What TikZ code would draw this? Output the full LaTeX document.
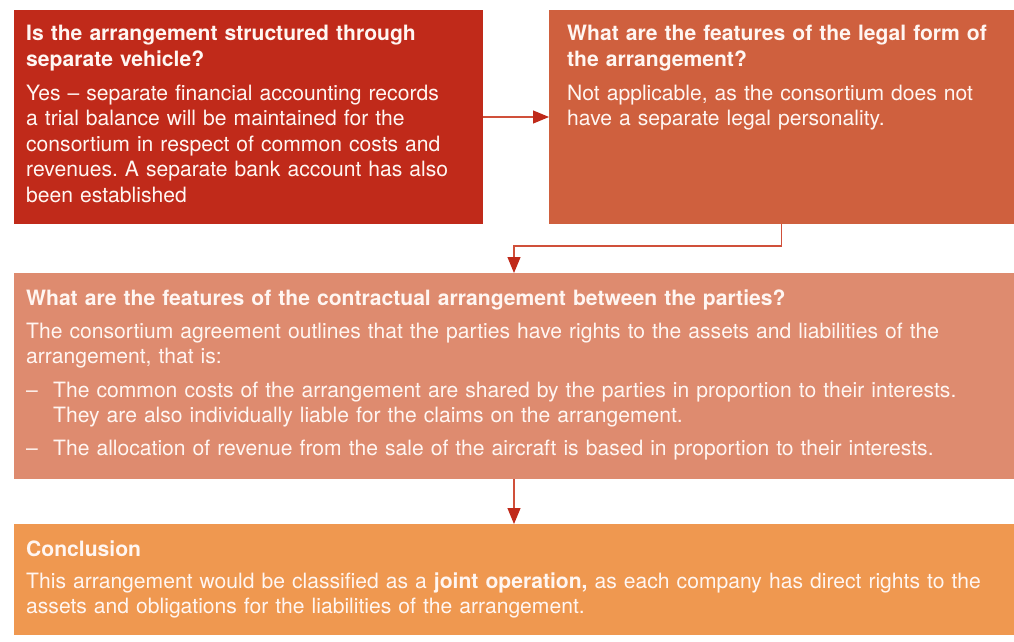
\documentclass[tikz,border=0pt]{standalone}
\usepackage{fontspec}
\setmainfont{TeX Gyre Heros}
\usetikzlibrary{arrows.meta}
\definecolor{cA}{HTML}{C02A1A}
\definecolor{cB}{HTML}{CF603E}
\definecolor{cC}{HTML}{DE8B6F}
\definecolor{cD}{HTML}{EF9850}
\definecolor{lineC}{HTML}{D0503A}
\definecolor{tipC}{HTML}{C02A1A}
\definecolor{txtC}{HTML}{FFF6F2}
\frenchspacing
\begin{document}
\frenchspacing
\begin{tikzpicture}[x=1pt,y=-1pt,
  panel/.style={draw=none, inner sep=0pt, outer sep=0pt, anchor=north west},
  txt/.style={anchor=base west, inner sep=0pt, text width=990pt, align=left, text=txtC,
    font=\fontsize{21.1}{25.5}\selectfont\frenchspacing},
  head/.style={txt, font=\fontsize{21.1}{26}\selectfont\bfseries},
  conn/.style={draw=lineC, line width=1.1pt, -{Triangle[length=16pt,width=13pt,fill=tipC,color=tipC]}}]
\useasboundingbox (0,0) rectangle (1014,641);
\fill[white] (0,0) rectangle (1014,641);
% panels
\node[panel, fill=cA, minimum width=469pt, minimum height=214pt] (b1) at (14,10) {};
\node[panel, fill=cB, minimum width=465pt, minimum height=214pt] (b2) at (549,10) {};
\node[panel, fill=cC, minimum width=1000pt, minimum height=206pt] (b3) at (14,273) {};
\node[panel, fill=cD, minimum width=1000pt, minimum height=111pt] (b4) at (14,524) {};
% box 1
\node[head] (h1) at (26,40.7) {Is the arrangement structured through\\separate vehicle?};
\node[txt] (p1) at (26,100) {Yes -- separate financial accounting records\\a trial balance will be maintained for the\\consortium in respect of common costs and\\revenues. A separate bank account has also\\been established};
% box 2
\node[head] (h2) at (567,40.7) {What are the features of the legal form of\\the arrangement?};
\node[txt] (p2) at (567,100) {Not applicable, as the consortium does not\\have a separate legal personality.};
% box 3
\node[head] (h3) at (26,305) {What are the features of the contractual arrangement between the parties?};
\node[txt] (p3) at (26,338.3) {The consortium agreement outlines that the parties have rights to the assets and liabilities of the\\arrangement, that is:};
\node[txt, text width=20pt] (d1) at (26,397.3) {--};
\node[txt, text width=960pt] (q1) at (53,397.3) {The common costs of the arrangement are shared by the parties in proportion to their interests.\\They are also individually liable for the claims on the arrangement.};
\node[txt, text width=20pt] (d2) at (26,455.7) {--};
\node[txt, text width=960pt] (q2) at (53,455.7) {The allocation of revenue from the sale of the aircraft is based in proportion to their interests.};
% box 4
\node[head] (h4) at (26,556) {Conclusion};
\node[txt] (p4) at (26,588) {This arrangement would be classified as a \textbf{joint operation,} as each company has direct rights to the\\assets and obligations for the liabilities of the arrangement.};
% connectors
\coordinate (k) at (514,246);
\draw[conn] (b1.east) -- (b2.west);
\draw[conn] (b2.south) |- (k) -- (b3.north);
\draw[conn] (b3.south) -- (b4.north);
\end{tikzpicture}
\end{document}
